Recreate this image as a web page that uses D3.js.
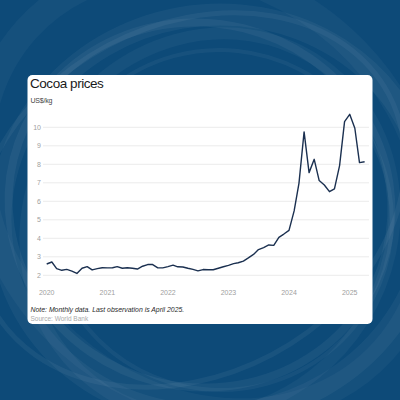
<!DOCTYPE html>
<html>
<head>
<meta charset="utf-8">
<script src="https://cdn.jsdelivr.net/npm/d3@7"></script>
<style>
  html, body { margin: 0; padding: 0; background: #0d4a78; }
  svg { display: block; font-family: "Liberation Sans", Arial, sans-serif; }
</style>
</head>
<body>
<div id="chart"></div>
<script>
// monthly cocoa prices, US$/kg, Jan 2020 - Apr 2025
const prices2020 = [2.61, 2.72, 2.36, 2.27, 2.32, 2.23, 2.10, 2.38, 2.47, 2.29, 2.36, 2.41];
const prices2021 = [2.40, 2.41, 2.47, 2.38, 2.41, 2.38, 2.34, 2.49, 2.58, 2.58, 2.40, 2.40];
const prices2022 = [2.47, 2.55, 2.46, 2.45, 2.38, 2.32, 2.24, 2.31, 2.30, 2.30, 2.38, 2.46];
const prices2023 = [2.54, 2.63, 2.68, 2.77, 2.94, 3.13, 3.39, 3.50, 3.64, 3.62, 4.05, 4.23];
const prices2024 = [4.43, 5.48, 6.97, 9.75, 7.55, 8.27, 7.12, 6.88, 6.52, 6.67, 7.93, 10.31];
const prices2025 = [10.70, 9.95, 8.09, 8.14];

const years = [2020, 2021, 2022, 2023, 2024, 2025];
const yTicks = [2, 3, 4, 5, 6, 7, 8, 9, 10];

const title = "Cocoa prices";
const unit = "US$/kg";
const note = "Note: Monthly data. Last observation is April 2025.";
const source = "Source: World Bank";

const allPrices = [].concat(prices2020, prices2021, prices2022, prices2023, prices2024, prices2025);
const data = allPrices.map((v, i) => ({ date: new Date(2020, i, 1), value: v }));

const W = 400, H = 400;

const svg = d3.select("#chart").append("svg")
    .attr("width", W)
    .attr("height", H);

// background
svg.append("rect")
    .attr("width", W)
    .attr("height", H)
    .attr("fill", "#0d4a78");

// faint brush-stroke rings behind the card
const rings = [
    { cx: 215, cy: 215, rx: 215, ry: 200, rot: -10, w: 22, o: 0.045 },
    { cx: 200, cy: 205, rx: 192, ry: 182, rot: 14, w: 8, o: 0.05 },
    { cx: 210, cy: 225, rx: 180, ry: 196, rot: 32, w: 12, o: 0.04 },
    { cx: 190, cy: 200, rx: 225, ry: 175, rot: -28, w: 5, o: 0.05 },
    { cx: 220, cy: 220, rx: 172, ry: 170, rot: 6, w: 4, o: 0.045 },
    { cx: 205, cy: 190, rx: 240, ry: 205, rot: 42, w: 26, o: 0.035 }
];
svg.append("g")
    .selectAll("ellipse")
    .data(rings)
    .join("ellipse")
    .attr("cx", d => d.cx)
    .attr("cy", d => d.cy)
    .attr("rx", d => d.rx)
    .attr("ry", d => d.ry)
    .attr("transform", d => `rotate(${d.rot},${d.cx},${d.cy})`)
    .attr("fill", "none")
    .attr("stroke", "#ffffff")
    .attr("stroke-opacity", d => d.o)
    .attr("stroke-width", d => d.w);

// card
svg.append("rect")
    .attr("x", 27.5)
    .attr("y", 75)
    .attr("width", 345)
    .attr("height", 249)
    .attr("rx", 5)
    .attr("fill", "#ffffff");

svg.append("text")
    .attr("x", 30)
    .attr("y", 87.5)
    .attr("font-size", 13.5)
    .attr("letter-spacing", -0.45)
    .attr("fill", "#1a1a1a")
    .text(title);

svg.append("text")
    .attr("x", 30.5)
    .attr("y", 102.5)
    .attr("font-size", 7)
    .attr("letter-spacing", -0.2)
    .attr("fill", "#444")
    .text(unit);

const x = d3.scaleTime()
    .domain([new Date(2020, 0, 1), new Date(2025, 0, 1)])
    .range([46.7, 349.7]);

const y = d3.scaleLinear()
    .domain([2, 10])
    .range([275.3, 127.3]);

// gridlines
svg.append("g")
    .selectAll("line")
    .data(yTicks)
    .join("line")
    .attr("x1", 43)
    .attr("x2", 369)
    .attr("y1", d => y(d))
    .attr("y2", d => y(d))
    .attr("stroke", "#ebebeb")
    .attr("stroke-width", 1);

// y labels
svg.append("g")
    .selectAll("text")
    .data(yTicks)
    .join("text")
    .attr("x", 41)
    .attr("y", d => y(d) + 2.5)
    .attr("text-anchor", "end")
    .attr("font-size", 7)
    .attr("fill", "#a0a0a0")
    .text(d => d);

// x labels
svg.append("g")
    .selectAll("text")
    .data(years)
    .join("text")
    .attr("x", d => x(new Date(d, 0, 1)))
    .attr("y", 295)
    .attr("text-anchor", "middle")
    .attr("font-size", 7)
    .attr("fill", "#a0a0a0")
    .text(d => d);

const line = d3.line()
    .x(d => x(d.date))
    .y(d => y(d.value));

svg.append("path")
    .datum(data)
    .attr("d", line)
    .attr("fill", "none")
    .attr("stroke", "#1b3050")
    .attr("stroke-width", 1.4)
    .attr("stroke-linejoin", "round");

svg.append("text")
    .attr("x", 30.5)
    .attr("y", 311.5)
    .attr("font-size", 6.9)
    .attr("font-style", "italic")
    .attr("fill", "#2a2a2a")
    .text(note);

svg.append("text")
    .attr("x", 30.5)
    .attr("y", 320.5)
    .attr("font-size", 6.5)
    .attr("fill", "#aaaaaa")
    .text(source);
</script>
</body>
</html>
